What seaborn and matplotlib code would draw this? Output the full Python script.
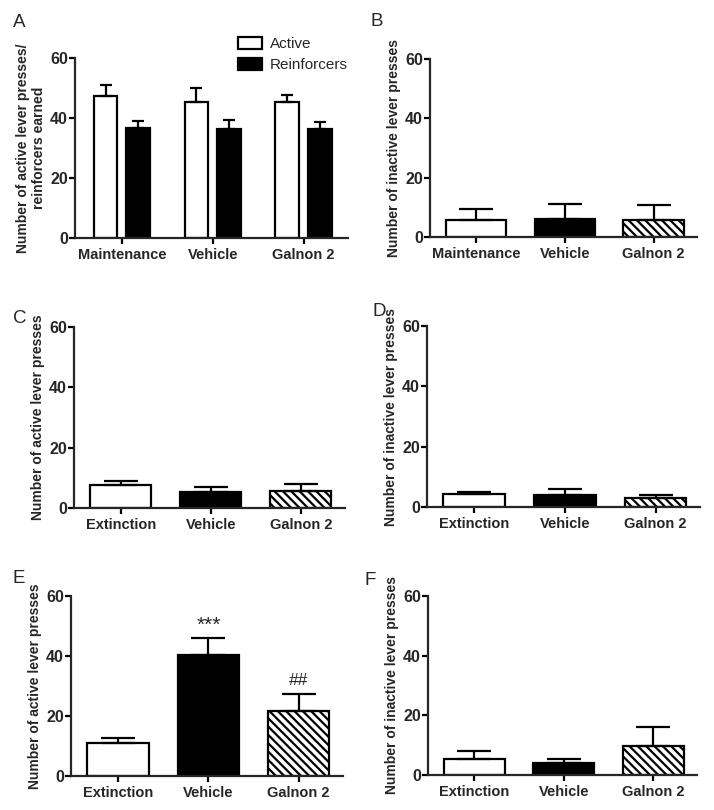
import matplotlib
matplotlib.use("Agg")
import matplotlib.pyplot as plt
import seaborn as sns
import pandas as pd

# values (mean and SEM, upper error only)
maint_groups = ["Maintenance", "Vehicle", "Galnon 2"]
ext_groups = ["Extinction", "Vehicle", "Galnon 2"]
kinds = ["Active", "Reinforcers"]

a_active = [47.4, 45.4, 45.2]
a_active_sem = [3.6, 4.5, 2.6]
a_reinf = [36.6, 36.2, 36.2]
a_reinf_sem = [2.3, 3.2, 2.6]

b_inactive = [5.7, 6.1, 5.7]
b_inactive_sem = [3.9, 5.1, 5.2]

c_active = [7.6, 5.3, 5.7]
c_active_sem = [1.4, 1.8, 2.2]

d_inactive = [4.2, 4.0, 3.0]
d_inactive_sem = [0.9, 2.0, 1.1]

e_active = [11.1, 40.4, 21.7]
e_active_sem = [1.5, 5.7, 5.7]

f_inactive = [5.2, 3.9, 9.8]
f_inactive_sem = [2.9, 1.3, 6.3]

e_marks = ["", "***", "##"]

sns.set_style("ticks")
plt.rcParams["font.family"] = ["Liberation Sans", "DejaVu Sans"]
plt.rcParams["hatch.linewidth"] = 1.6

LW = 1.6
W, H = 714, 810


def rect(x0, x1, ytop, ybot):
    return [x0 / W, 1 - ybot / H, (x1 - x0) / W, (ybot - ytop) / H]


def style_axis(ax, ylabel):
    ax.set_ylim(0, 60)
    ax.set_yticks([0, 20, 40, 60])
    ax.set_xlim(-0.52, 2.49)
    ax.set_xlabel("")
    ax.set_ylabel(ylabel, fontsize=10, fontweight="bold", labelpad=3)
    sns.despine(ax=ax)
    for s in ["left", "bottom"]:
        ax.spines[s].set_linewidth(LW)
    ax.tick_params(axis="both", width=LW, length=4, color="black")
    ax.tick_params(axis="y", labelsize=11.5, pad=1)
    ax.tick_params(axis="x", labelsize=10.5, pad=3)
    for lab in ax.get_xticklabels() + ax.get_yticklabels():
        lab.set_fontweight("bold")


def add_errors(ax, container, sems, cap):
    for bar, sem in zip(container, sems):
        x = bar.get_x() + bar.get_width() / 2
        ax.errorbar(x, bar.get_height(), yerr=[[0], [sem]], fmt="none",
                    ecolor="black", elinewidth=LW, capsize=cap, capthick=LW)


def three_bars(ax, groups, vals, sems, ylabel):
    sns.barplot(x=groups, y=vals, hue=groups, palette=["white", "black", "white"],
                width=0.68, edgecolor="black", linewidth=LW, errorbar=None,
                legend=False, ax=ax)
    ax.containers[2][0].set_hatch("\\\\\\\\")
    bars = [c[0] for c in ax.containers]
    add_errors(ax, bars, sems, 12)
    style_axis(ax, ylabel)


fig = plt.figure(figsize=(7.14, 8.10), dpi=100)

# A
ax_a = fig.add_axes(rect(74.7, 348, 58, 238))
df_a = pd.DataFrame({
    "group": maint_groups * 2,
    "kind": [kinds[0]] * 3 + [kinds[1]] * 3,
    "value": a_active + a_reinf,
})
sns.barplot(data=df_a, x="group", y="value", hue="kind", palette=["white", "black"],
            width=0.72, gap=0.28, edgecolor="black", linewidth=LW, errorbar=None, ax=ax_a)
add_errors(ax_a, ax_a.containers[0], a_active_sem, 4.5)
add_errors(ax_a, ax_a.containers[1], a_reinf_sem, 4.5)
handles, labels = ax_a.get_legend_handles_labels()
ax_a.legend(handles, labels, loc="upper left", bbox_to_anchor=(238 / W, 1 - 37 / H),
            bbox_transform=fig.transFigure, frameon=False, borderpad=0,
            borderaxespad=0, handlelength=1.6, handleheight=0.8, handletextpad=0.5,
            labelspacing=0.45, fontsize=11)
style_axis(ax_a, "Number of active lever presses/\nreinforcers earned")

# B
ax_b = fig.add_axes(rect(430, 697, 59, 237))
three_bars(ax_b, maint_groups, b_inactive, b_inactive_sem, "Number of inactive lever presses")

# C
ax_c = fig.add_axes(rect(74, 345, 327, 508))
three_bars(ax_c, ext_groups, c_active, c_active_sem, "Number of active lever presses")

# D
ax_d = fig.add_axes(rect(427, 700, 326, 507))
three_bars(ax_d, ext_groups, d_inactive, d_inactive_sem, "Number of inactive lever presses")

# E
ax_e = fig.add_axes(rect(71, 343, 596, 776))
three_bars(ax_e, ext_groups, e_active, e_active_sem, "Number of active lever presses")
for i, (mark, size, off) in enumerate(zip(e_marks, [0, 15, 12.5], [0, 4.0, 4.4])):
    if mark:
        ax_e.text(i, e_active[i] + e_active_sem[i] + off, mark, ha="center",
                  va="center", fontsize=size)

# F
ax_f = fig.add_axes(rect(428, 697, 596, 775))
three_bars(ax_f, ext_groups, f_inactive, f_inactive_sem, "Number of inactive lever presses")

# panel letters
for letter, px, py in [("A", 13, 27), ("B", 370, 26), ("C", 13, 323),
                       ("D", 372, 316), ("E", 12, 583), ("F", 365, 585)]:
    fig.text(px / W, 1 - py / H, letter, fontsize=13.5, ha="left", va="baseline")

fig.savefig("out.png", dpi=100)
